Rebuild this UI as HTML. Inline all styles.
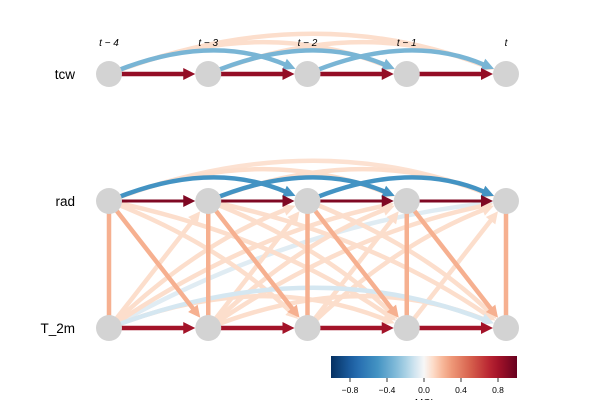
<!DOCTYPE html>
<html><head><meta charset="utf-8"><style>
body{margin:0;background:#fff;}
svg{display:block;font-family:"Liberation Sans",sans-serif;}
</style></head><body>
<svg id="c" width="600" height="400"></svg>
<script>
const varNames=["tcw","rad","T_2m"];
const timeLabels=["t − 4","t − 3","t − 2","t − 1","t"];
// links: source var, target var, lag, MCI value
const linkSrc=[0,0,0,0,1,1,1,1,1,1,1,1,2,2,2,2,2,2,2];
const linkTgt=[0,0,0,0,1,1,1,1,2,2,2,2,1,1,1,1,2,2,2];
const linkLag=[1,2,3,4,1,2,3,4,0,1,2,3,1,2,3,4,1,3,4];
const linkVal=[0.85,-0.33,0.09,0.09,0.92,-0.5,0.09,0.08,0.22,0.22,0.09,0.09,0.09,0.09,0.09,-0.06,0.8,0.09,-0.09];
const cbTicks=[-0.8,-0.4,0.0,0.4,0.8];

const NS="http://www.w3.org/2000/svg";
const svg=document.getElementById('c');
const X=i=>109+i*99.25, Y=v=>74+v*127, R=13;
const stops=[[-1,[5,48,97]],[-0.75,[33,102,172]],[-0.5,[67,147,195]],[-0.25,[146,197,222]],[-0.1,[209,229,240]],[0,[247,247,247]],[0.1,[253,219,199]],[0.25,[244,165,130]],[0.5,[214,96,77]],[0.75,[178,24,43]],[1,[103,0,31]]];
function col(v){v=Math.max(-1,Math.min(1,v));for(let i=1;i<stops.length;i++){if(v<=stops[i][0]){const a=stops[i-1],b=stops[i],t=(v-a[0])/(b[0]-a[0]);return 'rgb('+a[1].map((c,k)=>Math.round(c+(b[1][k]-c)*t)).join(',')+')';}}return 'rgb(103,0,31)';}
function mk(tag,attrs,parent){const e=document.createElementNS(NS,tag);for(const k in attrs)e.setAttribute(k,attrs[k]);(parent||svg).appendChild(e);return e;}

const defs=mk('defs',{});
const lg=mk('linearGradient',{id:'cb',x1:0,x2:1,y1:0,y2:0},defs);
for(let i=0;i<=20;i++){mk('stop',{offset:i/20,'stop-color':col(-1+i/10)},lg);}
const cbx=v=>424+v*92.5;
const cb=mk('rect',{x:331,y:356,width:186,height:22,fill:'url(#cb)'});


cbTicks.forEach(t=>{
  mk('line',{x1:cbx(t),x2:cbx(t),y1:378,y2:382,stroke:'#000','stroke-width':0.8});
  const tx=mk('text',{x:cbx(t),y:393,'font-size':8.5,'text-anchor':'middle'});
  tx.textContent=(t<0?'−':'')+Math.abs(t).toFixed(1);
  
  
});
const ml=mk('text',{x:424,y:406,'font-size':10,'text-anchor':'middle'});ml.textContent='MCI';



const order=linkVal.map((v,i)=>i).sort((a,b)=>Math.abs(linkVal[a])-Math.abs(linkVal[b]));
order.forEach(li=>{
  const s=linkSrc[li],t=linkTgt[li],lag=linkLag[li],v=linkVal[li];
  const c=col(v);
  const w=(s===1&&t===1&&lag===1)?3:4.5;
  for(let i=0;i+lag<=4;i++){
    const x0=X(i),y0=Y(s),x1=X(i+lag),y1=Y(t);
    let cx,cy;
    if(s===t&&lag>=2){cx=(x0+x1)/2;cy=y0-(8+17*lag);}
    else if(s!==t&&lag>=2){const dx=x1-x0,dy=y1-y0;cx=(x0+x1)/2+dy*0.1;cy=(y0+y1)/2-dx*0.1;}
    else {cx=(x0+x1)/2;cy=(y0+y1)/2;}
    let tx=x1-cx,ty=y1-cy;const L=Math.hypot(tx,ty);tx/=L;ty/=L;
    const directed=lag>0;
    const hl=directed?12:0;
    const ex=x1-tx*(R+hl-1),ey=y1-ty*(R+hl-1);
    const p=mk('path',{d:`M${x0},${y0} Q${cx},${cy} ${ex},${ey}`,fill:'none',stroke:c,'stroke-width':w});
    
    
    if(directed){
      const bx=x1-tx*(R+hl),by=y1-ty*(R+hl),px=-ty,py=tx,hw=6;
      const ax=x1-tx*R,ay=y1-ty*R;
      const h=mk('polygon',{points:`${ax},${ay} ${bx+px*hw},${by+py*hw} ${bx-px*hw},${by-py*hw}`,fill:c});
      
      
    }
  }
});

for(let v=0;v<3;v++){
  for(let i=0;i<5;i++){
    const n=mk('circle',{cx:X(i),cy:Y(v),r:R,fill:'#d3d3d3'});
    
    
  }
  const lb=mk('text',{x:75,y:Y(v)+5,'font-size':13.5,'text-anchor':'end'});lb.textContent=varNames[v];
  
  
}
timeLabels.forEach((s,i)=>{
  const tx=mk('text',{x:X(i),y:46,'font-size':10,'text-anchor':'middle','font-style':'italic'});
  tx.textContent=s;
  
  
});
</script>
</body></html>
